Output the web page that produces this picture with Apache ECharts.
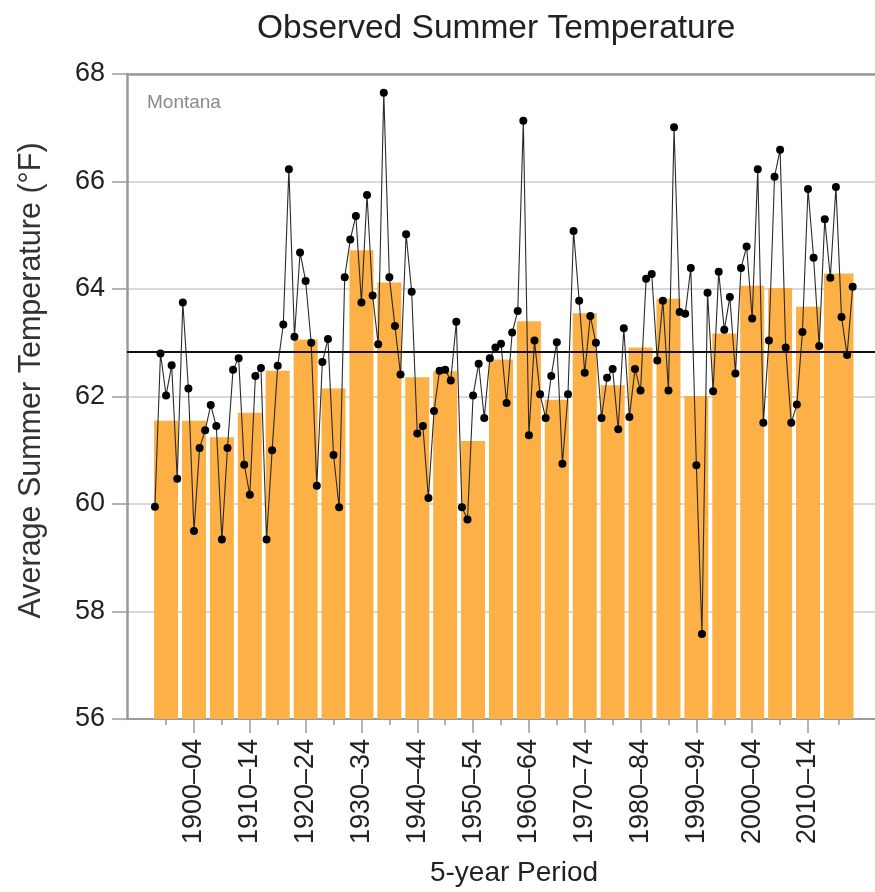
<!DOCTYPE html>
<html>
<head>
<meta charset="utf-8">
<script src="https://cdn.jsdelivr.net/npm/echarts@6/dist/echarts.min.js"></script>
<style>
html,body{margin:0;padding:0;background:#fff;}
#chart{width:875px;height:892px;}
</style>
</head>
<body>
<div id="chart"></div>
<script>
// ---- Data ----
const years = [
1895,1896,1897,1898,1899,1900,1901,1902,1903,1904,1905,1906,1907,1908,1909,
1910,1911,1912,1913,1914,1915,1916,1917,1918,1919,1920,1921,1922,1923,1924,
1925,1926,1927,1928,1929,1930,1931,1932,1933,1934,1935,1936,1937,1938,1939,
1940,1941,1942,1943,1944,1945,1946,1947,1948,1949,1950,1951,1952,1953,1954,
1955,1956,1957,1958,1959,1960,1961,1962,1963,1964,1965,1966,1967,1968,1969,
1970,1971,1972,1973,1974,1975,1976,1977,1978,1979,1980,1981,1982,1983,1984,
1985,1986,1987,1988,1989,1990,1991,1992,1993,1994,1995,1996,1997,1998,1999,
2000,2001,2002,2003,2004,2005,2006,2007,2008,2009,2010,2011,2012,2013,2014,
2015,2016,2017,2018,2019,2020];
const annualTemps = [
59.95,62.80,62.02,62.58,60.47,63.75,62.15,59.50,61.04,61.37,61.84,61.45,59.34,61.04,62.50,
62.71,60.73,60.17,62.38,62.53,59.34,61.00,62.57,63.34,66.23,63.11,64.68,64.15,63.00,60.34,
62.64,63.07,60.91,59.94,64.22,64.92,65.36,63.75,65.75,63.88,62.97,67.65,64.22,63.31,62.41,
65.02,63.95,61.31,61.45,60.11,61.73,62.48,62.50,62.30,63.39,59.94,59.71,62.02,62.61,61.60,
62.71,62.91,62.98,61.88,63.19,63.59,67.13,61.28,63.04,62.04,61.60,62.38,63.01,60.75,62.04,
65.08,63.78,62.44,63.50,63.00,61.60,62.35,62.51,61.39,63.27,61.62,62.51,62.11,64.19,64.28,
62.67,63.78,62.11,67.01,63.57,63.54,64.39,60.72,57.58,63.93,62.10,64.32,63.24,63.85,62.43,
64.39,64.79,63.45,66.23,61.51,63.04,66.09,66.59,62.91,61.51,61.85,63.20,65.86,64.58,62.94,
65.30,64.21,65.90,63.48,62.77,64.04];

const periodStart = [1895,1900,1905,1910,1915,1920,1925,1930,1935,1940,1945,1950,1955,
  1960,1965,1970,1975,1980,1985,1990,1995,2000,2005,2010,2015];
const periodEnd = [1899,1904,1909,1914,1919,1924,1929,1934,1939,1944,1949,1954,1959,
  1964,1969,1974,1979,1984,1989,1994,1999,2004,2009,2014,2020];
const periodAvg = [61.55,61.55,61.24,61.70,62.48,63.06,62.15,64.72,64.12,62.36,62.47,61.17,62.69,
  63.40,61.94,63.55,62.21,62.91,63.82,62.01,63.17,64.06,64.02,63.67,64.29];

const longTermMean = 62.83;

const tickLabelYears = [1902,1912,1922,1932,1942,1952,1962,1972,1982,1992,2002,2012];
const tickLabels = ['1900–04','1910–14','1920–24','1930–34','1940–44','1950–54',
  '1960–64','1970–74','1980–84','1990–94','2000–04','2010–14'];

const yTicks = [56,58,60,62,64,66,68];

// ---- Build ----
const FONT = "'Liberation Sans', Arial, Helvetica, sans-serif";
const Y_MIN = 56, Y_MAX = 68;
const barTable = periodStart.map((s, i) => [s, periodEnd[i], periodAvg[i]]);
const barCenters = periodStart.map((s, i) => (s + periodEnd[i]) / 2);
const lineData = years.map((y, i) => [y, annualTemps[i]]);
const labelMap = {};
tickLabelYears.forEach((y, i) => { labelMap[y] = tickLabels[i]; });

const chart = echarts.init(document.getElementById('chart'), null, {renderer: 'canvas'});
const option = {
  animation: false,
  backgroundColor: '#ffffff',
  textStyle: {fontFamily: FONT},
  title: [
    {text: 'Observed Summer Temperature', left: 252, top: 7,
     textStyle: {fontFamily: FONT, fontSize: 33.5, fontWeight: 'normal', color: '#222'}},
    {text: 'Montana', left: 142, top: 88,
     textStyle: {fontFamily: FONT, fontSize: 19, fontWeight: 'normal', color: '#8a8a8a'}}
  ],
  grid: {left: 127, right: 0, top: 74, bottom: 173, containLabel: false},
  xAxis: [
    { // data axis with minor ticks at every period centre
      type: 'value', min: 1890, max: 2024, position: 'bottom',
      axisLine: {show: true, onZero: false, lineStyle: {color: '#9a9a9a', width: 2}},
      axisTick: {show: true, customValues: barCenters, length: 6, lineStyle: {color: '#9a9a9a', width: 1.5}},
      axisLabel: {show: false},
      splitLine: {show: false}
    },
    { // major ticks + labels
      type: 'value', min: 1890, max: 2024, position: 'bottom',
      name: '5-year Period', nameLocation: 'middle', nameGap: 140,
      nameTextStyle: {fontFamily: FONT, fontSize: 28, color: '#222', padding: [0, 0, 0, 26]},
      axisLine: {show: false},
      axisTick: {show: true, customValues: tickLabelYears, length: 14, lineStyle: {color: '#9a9a9a', width: 1.5}},
      axisLabel: {show: true, customValues: tickLabelYears, rotate: 90, margin: 20,
        fontFamily: FONT, fontSize: 27, color: '#222',
        formatter: v => labelMap[v] || ''},
      splitLine: {show: false}
    },
    { // top frame line
      type: 'value', min: 1890, max: 2024, position: 'top',
      axisLine: {show: true, onZero: false, lineStyle: {color: '#9a9a9a', width: 2.5}},
      axisTick: {show: false}, axisLabel: {show: false}, splitLine: {show: false}
    }
  ],
  yAxis: {
    type: 'value', min: Y_MIN, max: Y_MAX, interval: 2,
    name: 'Average Summer Temperature (°F)', nameLocation: 'middle', nameGap: 80,
    nameTextStyle: {fontFamily: FONT, fontSize: 30.5, color: '#333', padding: [0, 0, 0, 32]},
    axisLine: {show: true, lineStyle: {color: '#9a9a9a', width: 2.5}},
    axisTick: {show: true, length: 15, lineStyle: {color: '#9a9a9a', width: 1.5}},
    axisLabel: {show: true, margin: 22, fontFamily: FONT, fontSize: 27, color: '#222',
      customValues: yTicks},
    splitLine: {show: true, lineStyle: {color: '#cccccc', width: 1.5}}
  },
  series: [
    {
      type: 'custom',
      name: '5-year average',
      xAxisIndex: 0,
      data: barTable,
      encode: {x: [0, 1], y: 2},
      z: 2,
      renderItem: function (params, api) {
        const s = api.value(0), e = api.value(1), v = api.value(2);
        const p0 = api.coord([s - 0.15, v]);
        const p1 = api.coord([e + 0.15, Y_MIN]);
        return {
          type: 'rect',
          shape: {x: p0[0], y: p0[1], width: p1[0] - p0[0], height: p1[1] - p0[1]},
          style: {fill: '#FDB045'}
        };
      }
    },
    {
      type: 'line',
      name: 'Annual',
      xAxisIndex: 0,
      data: lineData,
      z: 4,
      symbol: 'circle',
      symbolSize: 8,
      itemStyle: {color: '#000'},
      lineStyle: {color: '#2a2a2a', width: 1.1},
      markLine: {
        silent: true, symbol: 'none', label: {show: false},
        lineStyle: {color: '#111', width: 2, type: 'solid'},
        data: [{yAxis: longTermMean}]
      }
    }
  ]
};
chart.setOption(option);
</script>
</body>
</html>
